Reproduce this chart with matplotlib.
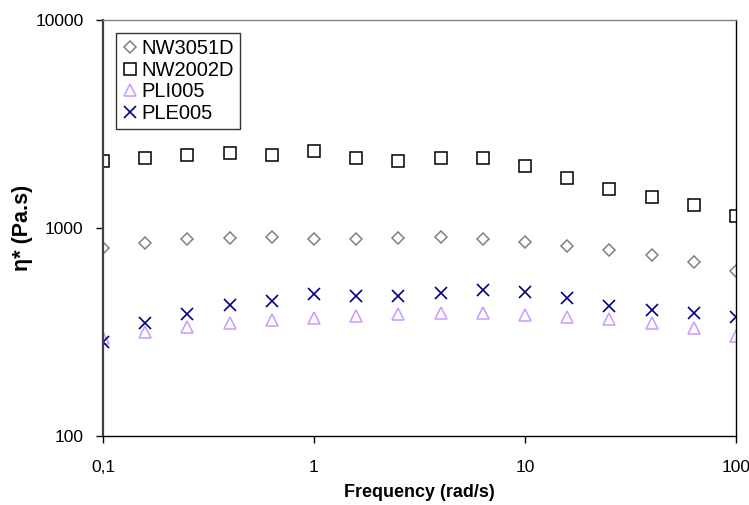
import numpy as np
import matplotlib
matplotlib.use("Agg")
import matplotlib.pyplot as plt
from matplotlib.ticker import FixedLocator, FixedFormatter, NullLocator

plt.rcParams['font.family'] = ['Liberation Sans', 'DejaVu Sans']

# frequency (rad/s)
freq = [0.1, 0.158, 0.251, 0.398, 0.631, 1.0, 1.585, 2.51, 3.98, 6.31,
        10.0, 15.85, 25.1, 39.8, 63.1, 100.0]

# complex viscosity (Pa.s)
nw3051d = [798, 844, 882, 895, 902, 888, 885, 898, 902, 888,
           853, 819, 784, 744, 689, 619]
nw2002d = [2099, 2172, 2243, 2296, 2243, 2345, 2172, 2099, 2172, 2172,
           1987, 1740, 1540, 1410, 1290, 1142]
pli005 = [296, 317, 334, 348, 360, 368, 376, 387, 390, 389,
          382, 373, 364, 349, 332, 304]
ple005 = [282, 350, 385, 425, 446, 480, 469, 471, 489, 502,
          491, 459, 423, 402, 390, 375]

x_ticks = [0.1, 1, 10, 100]
x_labels = ['0,1', '1', '10', '100']
y_ticks = [100, 1000, 10000]
y_labels = ['100', '1000', '10000']

fig = plt.figure(figsize=(7.49, 5.05), dpi=100)
ax = fig.add_axes([0.1375, 0.1366, 0.8451, 0.8238])

ax.plot(freq, nw3051d, linestyle='none', marker='D', markersize=6.5,
        markerfacecolor='none', markeredgecolor='#808080', markeredgewidth=1.1,
        label='NW3051D')
ax.plot(freq, nw2002d, linestyle='none', marker='s', markersize=9,
        markerfacecolor='none', markeredgecolor='black', markeredgewidth=1.1,
        label='NW2002D')
ax.plot(freq, pli005, linestyle='none', marker='^', markersize=9,
        markerfacecolor='none', markeredgecolor='#CC99FF', markeredgewidth=1.1,
        label='PLI005')
ax.plot(freq, ple005, linestyle='none', marker='x', markersize=9,
        color='#000080', markeredgewidth=1.2, label='PLE005')

ax.set_xscale('log')
ax.set_yscale('log')
ax.set_xlim(0.1, 100)
ax.set_ylim(100, 10000)

ax.xaxis.set_major_locator(FixedLocator(x_ticks))
ax.xaxis.set_major_formatter(FixedFormatter(x_labels))
ax.xaxis.set_minor_locator(NullLocator())
ax.yaxis.set_major_locator(FixedLocator(y_ticks))
ax.yaxis.set_major_formatter(FixedFormatter(y_labels))
ax.yaxis.set_minor_locator(NullLocator())
ax.tick_params(axis='both', direction='out', length=5, width=1,
               labelsize=12.5, colors='black')
ax.tick_params(axis='x', pad=12)
ax.tick_params(axis='y', pad=9)

for side in ['top', 'right', 'bottom']:
    ax.spines[side].set_color('black')
    ax.spines[side].set_linewidth(1)
ax.spines['top'].set_color('#808080')
ax.spines['left'].set_color('#404040')
ax.spines['left'].set_linewidth(1.6)

ax.set_xlabel('Frequency (rad/s)', fontsize=13, fontweight='bold', labelpad=7)
ax.set_ylabel('η* (Pa.s)', fontsize=15.5, fontweight='bold', labelpad=2)

leg = ax.legend(loc='upper left', bbox_to_anchor=(0.0205, 0.969), fontsize=14.5,
                frameon=True, fancybox=False, edgecolor='black',
                handlelength=0.8, handletextpad=0.15, borderpad=0.3,
                labelspacing=0.13, borderaxespad=0)
leg.get_frame().set_linewidth(1)

fig.savefig('out.png', dpi=100)
